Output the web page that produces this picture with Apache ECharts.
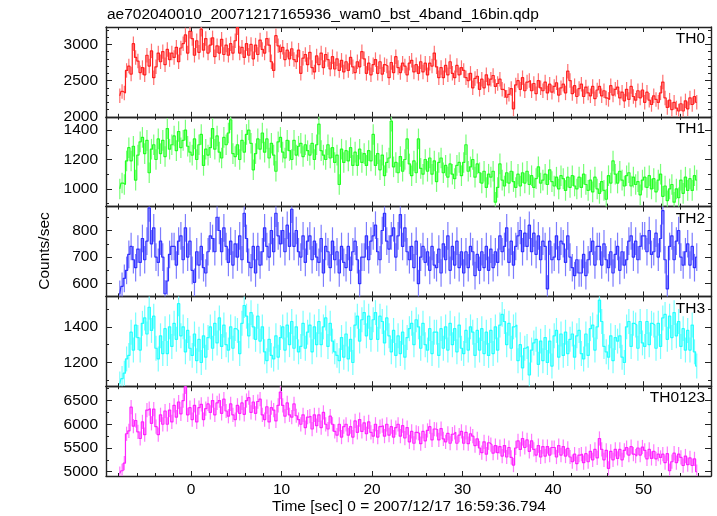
<!DOCTYPE html>
<html><head><meta charset="utf-8">
<script src="https://cdn.jsdelivr.net/npm/echarts@6/dist/echarts.min.js"></script>
<style>html,body{margin:0;padding:0;background:#fff}#c{width:717px;height:516px}</style>
</head><body><div id="c"></div>
<script>
const titleText = "ae702040010_20071217165936_wam0_bst_4band_16bin.qdp";
const xName = "Time [sec] 0 = 2007/12/17 16:59:36.794";
const yName = "Counts/sec";
const panelNames = ["TH0", "TH1", "TH2", "TH3", "TH0123"];
const binStart = -8, binWidth = 0.25;

const th0 = [
2290,2350,2330,2640, 2700,2590,3010,2820, 2770,2610,2680,2580, 2850,2700,2910,2540,
2690,2880,2760,2900, 2720,2930,2790,2880, 2820,2960,2760,2950, 3010,3130,2880,3180,
3080,2850,3050,2890, 3210,2920,3080,2880, 2990,3090,2830,2980, 2880,3070,2860,2990,
2850,3010,2880,3050, 3230,2880,2960,2820, 3010,2850,3000,2800, 2990,2860,3060,2930,
2880,3080,2990,2760, 2640,3120,2980,2900, 2960,2790,2920,2800, 2940,2790,2760,2920,
2600,2810,2860,2720, 2890,2680,2620,2840, 2720,2880,2680,2860, 2790,2660,2830,2660,
2800,2640,2780,2620, 2760,2640,2820,2690, 2610,2760,2690,2900, 2800,2600,2740,2580,
2720,2790,2600,2760, 2590,2720,2700,2540, 2750,2610,2830,2680, 2610,2740,2700,2580,
2740,2780,2620,2720, 2600,2760,2620,2740, 2580,2740,2700,2880, 2690,2540,2680,2540,
2710,2580,2760,2600, 2540,2710,2580,2680, 2640,2540,2500,2600, 2400,2530,2560,2380,
2520,2400,2580,2440, 2520,2570,2420,2460, 2520,2380,2360,2270, 2310,2390,2110,2440,
2500,2380,2540,2360, 2480,2500,2360,2460, 2320,2500,2400,2360, 2480,2330,2450,2340,
2420,2470,2300,2400, 2450,2330,2630,2500, 2320,2430,2280,2390, 2450,2280,2410,2330,
2290,2420,2250,2370, 2420,2290,2360,2260, 2240,2430,2300,2380, 2410,2260,2340,2220,
2380,2240,2420,2280, 2230,2360,2260,2370, 2200,2340,2230,2170, 2290,2240,2200,2330,
2480,2260,2130,2230, 2100,2200,2120,2080, 2180,2080,2220,2110, 2260,2170,2280,2200];

const th1 = [
1000,1040,1030,1190, 1280,1190,1290,1060, 1230,1320,1350,1240, 1330,1110,1270,1300,
1200,1340,1240,1330, 1220,1410,1270,1300, 1360,1260,1390,1280, 1330,1400,1290,1250,
1230,1340,1200,1300, 1370,1160,1270,1230, 1280,1410,1270,1360, 1250,1210,1350,1300,
1380,1470,1240,1220, 1300,1200,1330,1250, 1370,1400,1310,1130, 1240,1340,1270,1380,
1250,1340,1210,1310, 1230,1120,1320,1350, 1250,1210,1330,1260, 1200,1330,1230,1290,
1310,1220,1300,1260, 1230,1310,1200,1300, 1440,1260,1230,1200, 1300,1210,1280,1180,
1230,1030,1270,1180, 1260,1190,1280,1160, 1250,1160,1270,1180, 1240,1160,1260,1190,
1370,1160,1240,1130, 1230,1090,1180,1210, 1460,1150,1180,1110, 1220,1120,1200,1340,
1170,1090,1190,1110, 1340,1140,1100,1200, 1120,1210,1100,1190, 1050,1180,1210,1110,
1160,1080,1170,1100, 1070,1160,1180,1090, 1180,1300,1120,1150, 1200,1080,1170,1110,
1040,1120,1010,1100, 1080,1120,910,1010, 1170,1060,1020,1110, 1040,1120,1050,1010,
1100,1020,1110,1040, 1120,1030,1090,1010, 1070,1150,1040,1060, 1100,1030,1130,1050,
1020,1080,1000,1090, 1070,990,1080,1010, 1090,1020,1000,1080, 1010,1100,1030,990,
1060,980,1080,1000, 970,1050,990,930, 1090,1040,1190,1100, 1040,1120,1060,1020,
1090,1110,1020,1080, 1030,1050,960,1060, 1080,1010,1090,1000, 1070,980,1060,1100,
950,1020,920,1000, 1030,910,1000,940, 1060,970,1080,990, 1070,990,1090,1060];

const th2 = [
560,590,620,650, 710,740,690,660, 730,680,770,690, 760,885,750,810,
700,680,760,700, 562,610,710,740, 740,670,760,780, 690,810,700,760,
650,605,720,670, 740,660,640,720, 780,770,720,850, 800,720,810,740,
680,760,670,750, 700,780,690,865, 770,680,660,740, 640,740,670,720,
810,740,700,800, 720,865,780,750, 800,720,820,740, 880,740,800,720,
700,780,680,760, 780,690,760,700, 680,770,640,740, 720,660,760,690,
720,640,740,680, 660,740,650,720, 760,690,600,700, 700,780,690,760,
780,820,720,690, 800,865,760,730, 780,810,700,780, 860,740,810,720,
690,740,660,760, 600,700,740,680, 720,650,740,670, 660,730,640,750,
690,780,650,740, 670,760,660,720, 640,720,660,740, 720,630,710,650,
720,660,740,650, 730,660,720,680, 780,720,740,810, 680,760,670,740,
780,800,720,790, 740,820,720,790, 710,780,690,760, 740,580,760,690,
700,780,690,760, 750,680,780,700, 660,630,690,640, 640,710,630,690,
720,760,670,740, 740,670,750,690, 660,720,640,710, 740,650,720,670,
690,760,780,700, 760,690,740,780, 780,720,800,710, 720,790,700,770,
875,690,580,740, 780,690,760,800, 700,670,720,750, 670,740,660,700];

const th3 = [
1080,1110,1140,1220, 1240,1370,1270,1410, 1340,1270,1420,1450, 1360,1510,1380,1460,
1280,1220,1350,1250, 1390,1250,1400,1290, 1420,1330,1530,1350, 1400,1260,1380,1280,
1240,1360,1210,1330, 1200,1350,1230,1340, 1400,1280,1420,1310, 1450,1290,1410,1300,
1270,1400,1280,1390, 1380,1250,1420,1520, 1460,1350,1480,1400, 1330,1460,1320,1400,
1260,1210,1330,1240, 1220,1350,1230,1340, 1400,1270,1410,1300, 1430,1280,1400,1260,
1290,1420,1280,1370, 1410,1260,1400,1300, 1430,1300,1400,1450, 1290,1420,1320,1260,
1240,1210,1340,1230, 1360,1220,1330,1200, 1410,1460,1320,1440, 1480,1350,1460,1330,
1440,1480,1330,1460, 1430,1310,1450,1350, 1260,1380,1240,1350, 1250,1370,1230,1340,
1390,1420,1300,1440, 1400,1280,1420,1300, 1270,1390,1250,1370, 1370,1240,1390,1280,
1400,1270,1420,1300, 1390,1260,1410,1280, 1250,1380,1270,1400, 1370,1240,1380,1270,
1390,1250,1370,1240, 1380,1250,1400,1270, 1410,1470,1430,1300, 1420,1280,1400,1410,
1210,1300,1170,1280, 1290,1130,1270,1310, 1330,1190,1320,1210, 1340,1200,1320,1180,
1350,1380,1230,1360, 1240,1370,1250,1330, 1360,1230,1350,1380, 1250,1220,1360,1240,
1390,1410,1270,1400, 1550,1430,1290,1260, 1230,1350,1210,1340, 1320,1350,1230,1200,
1400,1430,1290,1420, 1410,1280,1430,1310, 1290,1430,1300,1420, 1410,1280,1420,1290,
1450,1470,1330,1460, 1340,1480,1350,1430, 1290,1390,1270,1380, 1270,1410,1260,1180];

const th0123 = [
4960,5020,5180,5800, 5860,6360,5960,6080, 5840,5700,6050,5780, 6300,6330,6020,6320,
5950,5780,6200,6000, 6280,6000,6300,6050, 6400,6150,6470,6220, 6500,6790,6200,6350,
6100,6400,6050,6350, 6420,6100,6330,6430, 6250,6500,6200,6450, 6500,6230,6530,6280,
6170,6430,6200,6100, 6400,6230,6450,6210, 6500,6560,6250,6470, 6230,6480,6530,6200,
6100,6370,6050,6350, 6300,6070,6400,6680, 6400,6170,6450,6200, 6150,6430,6180,6100,
6000,6200,5930,6150, 6170,5900,6200,5970, 6200,5930,6250,6000, 5900,6170,6000,5850,
5770,6000,5730,5950, 6000,5770,5950,5730, 6070,5830,6100,5850, 6030,5800,6050,5830,
5750,6000,5730,5950, 5970,5750,6000,5770, 5950,5730,5930,6000, 5750,5970,5710,5930,
5630,5850,5600,5830, 5810,5590,5850,5650, 5870,5950,5670,5900, 5890,5670,5910,5690,
5630,5810,5600,5790, 5830,5600,5770,5850, 5600,5830,5590,5800, 5750,5550,5690,5500,
5400,5630,5370,5610, 5570,5390,5550,5400, 5530,5330,5550,5310, 5510,5300,5140,5500,
5650,5470,5700,5510, 5670,5430,5650,5470, 5350,5550,5310,5530, 5330,5530,5350,5510,
5510,5310,5550,5350, 5530,5330,5490,5310, 5210,5370,5170,5350, 5370,5190,5380,5210,
5430,5250,5470,5290, 5700,5470,5250,5450, 5070,5430,5250,5470, 5280,5470,5250,5450,
5510,5350,5530,5370, 5330,5500,5350,5520, 5450,5270,5470,5280, 5430,5270,5370,5300,
5370,5190,5380,5020, 5210,5390,5190,5370, 5300,5130,5330,5150, 5290,5130,5270,5000];

const seriesValues = [th0, th1, th2, th3, th0123];
const errHalf = [100, 70, 52, 70, 150];
const colors = ["#ff2020", "#22ff22", "#3030ff", "#22ffff", "#ff22ff"];
const errColors = ["#ff7070", "#78ff78", "#7c7cff", "#78ffff", "#ff78ff"];

const xMin = -9.4, xMax = 57.45;
const xMajor = [0, 10, 20, 30, 40, 50];
const xMinor = [-8,-6,-4,-2,2,4,6,8,12,14,16,18,22,24,26,28,32,34,36,38,42,44,46,48,52,54,56];
const yMin = [2000, 880, 552, 1067, 4909];
const yMax = [3240, 1490, 890, 1571, 6803];
const yMajor = [[2000,2500,3000],[1000,1200,1400],[600,700,800],[1200,1400],[5000,5500,6000,6500]];
const yMinor = [[2100,2200,2300,2400,2600,2700,2800,2900,3100,3200],[900,1100,1300],[650,750,850],[1100,1300,1500],[5250,5750,6250,6750]];

// layout
const gLeft = 106, gRight = 6, gTop = 27, gH = 89.8;
const FONT = "'Liberation Sans', Arial, Helvetica, sans-serif";
const FS = 15.5;
const axisLineStyle = {color: '#222', width: 1.4};
const tickStyle = {color: '#222', width: 1};
const plain = v => String(v);

const grids = [], xAxes = [], yAxes = [], series = [], graphics = [];
for (let i = 0; i < 5; i++) {
  grids.push({left: gLeft, right: gRight, top: gTop + gH * i, height: gH, containLabel: false});
  const isLast = i === 4;
  const mkX = (pos, vals, len, showLine, labels) => ({
    type: 'value', gridIndex: i, position: pos, min: xMin, max: xMax,
    axisLine: {show: showLine, onZero: false, lineStyle: axisLineStyle},
    axisTick: {show: true, inside: true, length: len, lineStyle: tickStyle, customValues: vals},
    axisLabel: labels ? {show: true, customValues: xMajor, formatter: plain, color: '#000', fontSize: FS, fontFamily: FONT, margin: 6} : {show: false},
    splitLine: {show: false}
  });
  xAxes.push(mkX('bottom', xMajor, 5, true, isLast));
  xAxes.push(mkX('bottom', xMinor, 3, false, false));
  xAxes.push(mkX('top', xMajor, 5, true, false));
  xAxes.push(mkX('top', xMinor, 3, false, false));
  const mkY = (pos, vals, len, showLine, labels) => ({
    type: 'value', gridIndex: i, position: pos, min: yMin[i], max: yMax[i],
    axisLine: {show: showLine, onZero: false, lineStyle: axisLineStyle},
    axisTick: {show: true, inside: true, length: len, lineStyle: tickStyle, customValues: vals},
    axisLabel: labels ? {show: true, customValues: yMajor[i], formatter: plain, color: '#000', fontSize: FS, fontFamily: FONT, margin: 8} : {show: false},
    splitLine: {show: false}
  });
  yAxes.push(mkY('left', yMajor[i], 6, true, true));
  yAxes.push(mkY('left', yMinor[i], 3, false, false));
  yAxes.push(mkY('right', yMajor[i], 6, true, false));
  yAxes.push(mkY('right', yMinor[i], 3, false, false));

  const vals = seriesValues[i];
  const lineData = vals.map((v, k) => [binStart + binWidth * (k + 0.5), v]);
  const errData = vals.map((v, k) => [binStart + binWidth * (k + 0.5), v, errHalf[i]]);
  const ec = errColors[i];
  series.push({
    type: 'custom', xAxisIndex: 4 * i, yAxisIndex: 4 * i, z: 2, silent: true,
    data: errData,
    renderItem: function (params, api) {
      const t = api.value(0), v = api.value(1), e = api.value(2);
      const p1 = api.coord([t, v - e]), p2 = api.coord([t, v + e]);
      const cs = params.coordSys;
      const clampY = y => Math.min(Math.max(y, cs.y), cs.y + cs.height);
      return {type: 'line', shape: {x1: p1[0], y1: clampY(p1[1]), x2: p2[0], y2: clampY(p2[1])},
        style: {stroke: ec, lineWidth: 1.2}};
    }
  });
  series.push({
    type: 'line', xAxisIndex: 4 * i, yAxisIndex: 4 * i, z: 3, step: 'middle',
    showSymbol: false, symbol: 'none', silent: true, clip: true,
    data: lineData, lineStyle: {color: colors[i], width: 1.2}
  });
  graphics.push({type: 'text', right: 717 - 705, top: gTop + gH * i + 4,
    style: {text: panelNames[i], fill: '#000', font: FS + 'px ' + FONT}});
}

graphics.push({type: 'text', left: 107, top: 7, style: {text: titleText, fill: '#000', font: FS + 'px ' + FONT}});
graphics.push({type: 'text', x: 409, y: 507, style: {text: xName, fill: '#000', font: FS + 'px ' + FONT, align: 'center', verticalAlign: 'middle'}});
graphics.push({type: 'text', x: 45, y: 251, rotation: Math.PI / 2, style: {text: yName, fill: '#000', font: FS + 'px ' + FONT, align: 'center', verticalAlign: 'middle'}});

const chart = echarts.init(document.getElementById('c'), null, {renderer: 'canvas'});
chart.setOption({
  animation: false, backgroundColor: '#fff',
  grid: grids, xAxis: xAxes, yAxis: yAxes, series: series, graphic: graphics
});
</script></body></html>
